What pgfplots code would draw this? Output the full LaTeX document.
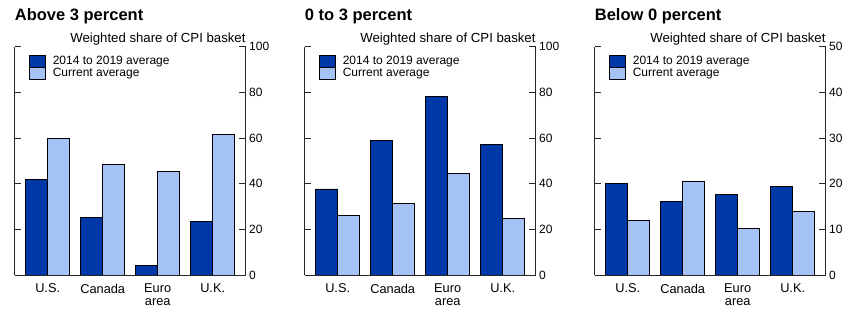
\documentclass[border=0pt]{standalone}
\usepackage{pgfplots}
\pgfplotsset{compat=1.18}
\usepackage{fontspec}
\setmainfont{Liberation Sans}

\definecolor{darkbar}{RGB}{0,56,168}
\definecolor{lightbar}{RGB}{164,194,244}

\pgfplotsset{
  panel/.style={
    width=231bp, height=228.3bp, scale only axis,
    axis x line*=bottom, axis y line*=box,
    ymin=0, xmin=-0.6, xmax=3.6,
    enlarge y limits=false,
    xtick={0,1,2,3},
    xticklabels={U.S., Canada, Euro\\area, U.K.},
    xticklabel style={align=center, font=\fontsize{12.8bp}{12.7bp}\selectfont, yshift=1bp},
    x tick style={draw=none},
    yticklabel pos=right,
    tick align=inside,
    major tick length=6.5bp,
    y tick style={line width=0.8bp, black!85},
    axis line style={line width=0.8bp, black!85},
    yticklabel style={font=\fontsize{12bp}{12bp}\selectfont},
    /pgf/number format/assume math mode=true,
    ybar, bar width=0.4,
    legend image code/.code={\draw[#1, line width=0.8bp] (0bp,-5.6bp) rectangle (15.5bp,5.6bp);},
    legend style={at={(axis description cs:0.062,0.963)}, anchor=north west,
      draw=none, fill=none, font=\fontsize{12bp}{12bp}\selectfont,
      row sep=0pt, column sep=7bp, inner sep=0pt,
      nodes={inner sep=0.3bp, text height=8.6bp, text depth=2.6bp}},
    legend cell align=left,
  },
  dark/.style={fill=darkbar, draw=black, line width=0.8bp, bar shift=-0.2},
  light/.style={fill=lightbar, draw=black, line width=0.8bp, bar shift=0.2},
}

\begin{document}
\begin{tikzpicture}
\useasboundingbox (0,0) rectangle (856bp,310bp);

% Above 3 percent
\begin{axis}[panel, at={(14.7bp,35bp)}, anchor=south west,
  ymax=100, ytick={0,20,40,60,80,100}]
\addplot[dark] coordinates {(0,42.0) (1,25.1) (2,4.1) (3,23.6)};
\addlegendentry{2014 to 2019 average}
\addplot[light] coordinates {(0,60.0) (1,48.6) (2,45.4) (3,61.5)};
\addlegendentry{Current average}
\end{axis}

% 0 to 3 percent
\begin{axis}[panel, at={(304.7bp,35bp)}, anchor=south west,
  ymax=100, ytick={0,20,40,60,80,100}]
\addplot[dark] coordinates {(0,37.7) (1,58.8) (2,78.1) (3,57.1)};
\addlegendentry{2014 to 2019 average}
\addplot[light] coordinates {(0,26.1) (1,31.2) (2,44.4) (3,24.7)};
\addlegendentry{Current average}
\end{axis}

% Below 0 percent
\begin{axis}[panel, at={(594.7bp,35bp)}, anchor=south west,
  ymax=50, ytick={0,10,20,30,40,50}]
\addplot[dark] coordinates {(0,20.1) (1,16.1) (2,17.7) (3,19.3)};
\addlegendentry{2014 to 2019 average}
\addplot[light] coordinates {(0,12.0) (1,20.6) (2,10.2) (3,14.0)};
\addlegendentry{Current average}
\end{axis}

% titles and unit notes
\foreach \x/\t in {14.7/Above 3 percent, 304.7/0 to 3 percent, 594.7/Below 0 percent}{
  \node[anchor=base west, inner sep=0pt, font=\bfseries\fontsize{16.5bp}{17bp}\selectfont]
    at (\x bp,289bp) {\t};
  \node[anchor=base east, inner sep=0pt, font=\fontsize{13.2bp}{14bp}\selectfont]
    at (\x bp+231bp,267.7bp) {Weighted share of CPI basket};
}
\end{tikzpicture}
\end{document}
